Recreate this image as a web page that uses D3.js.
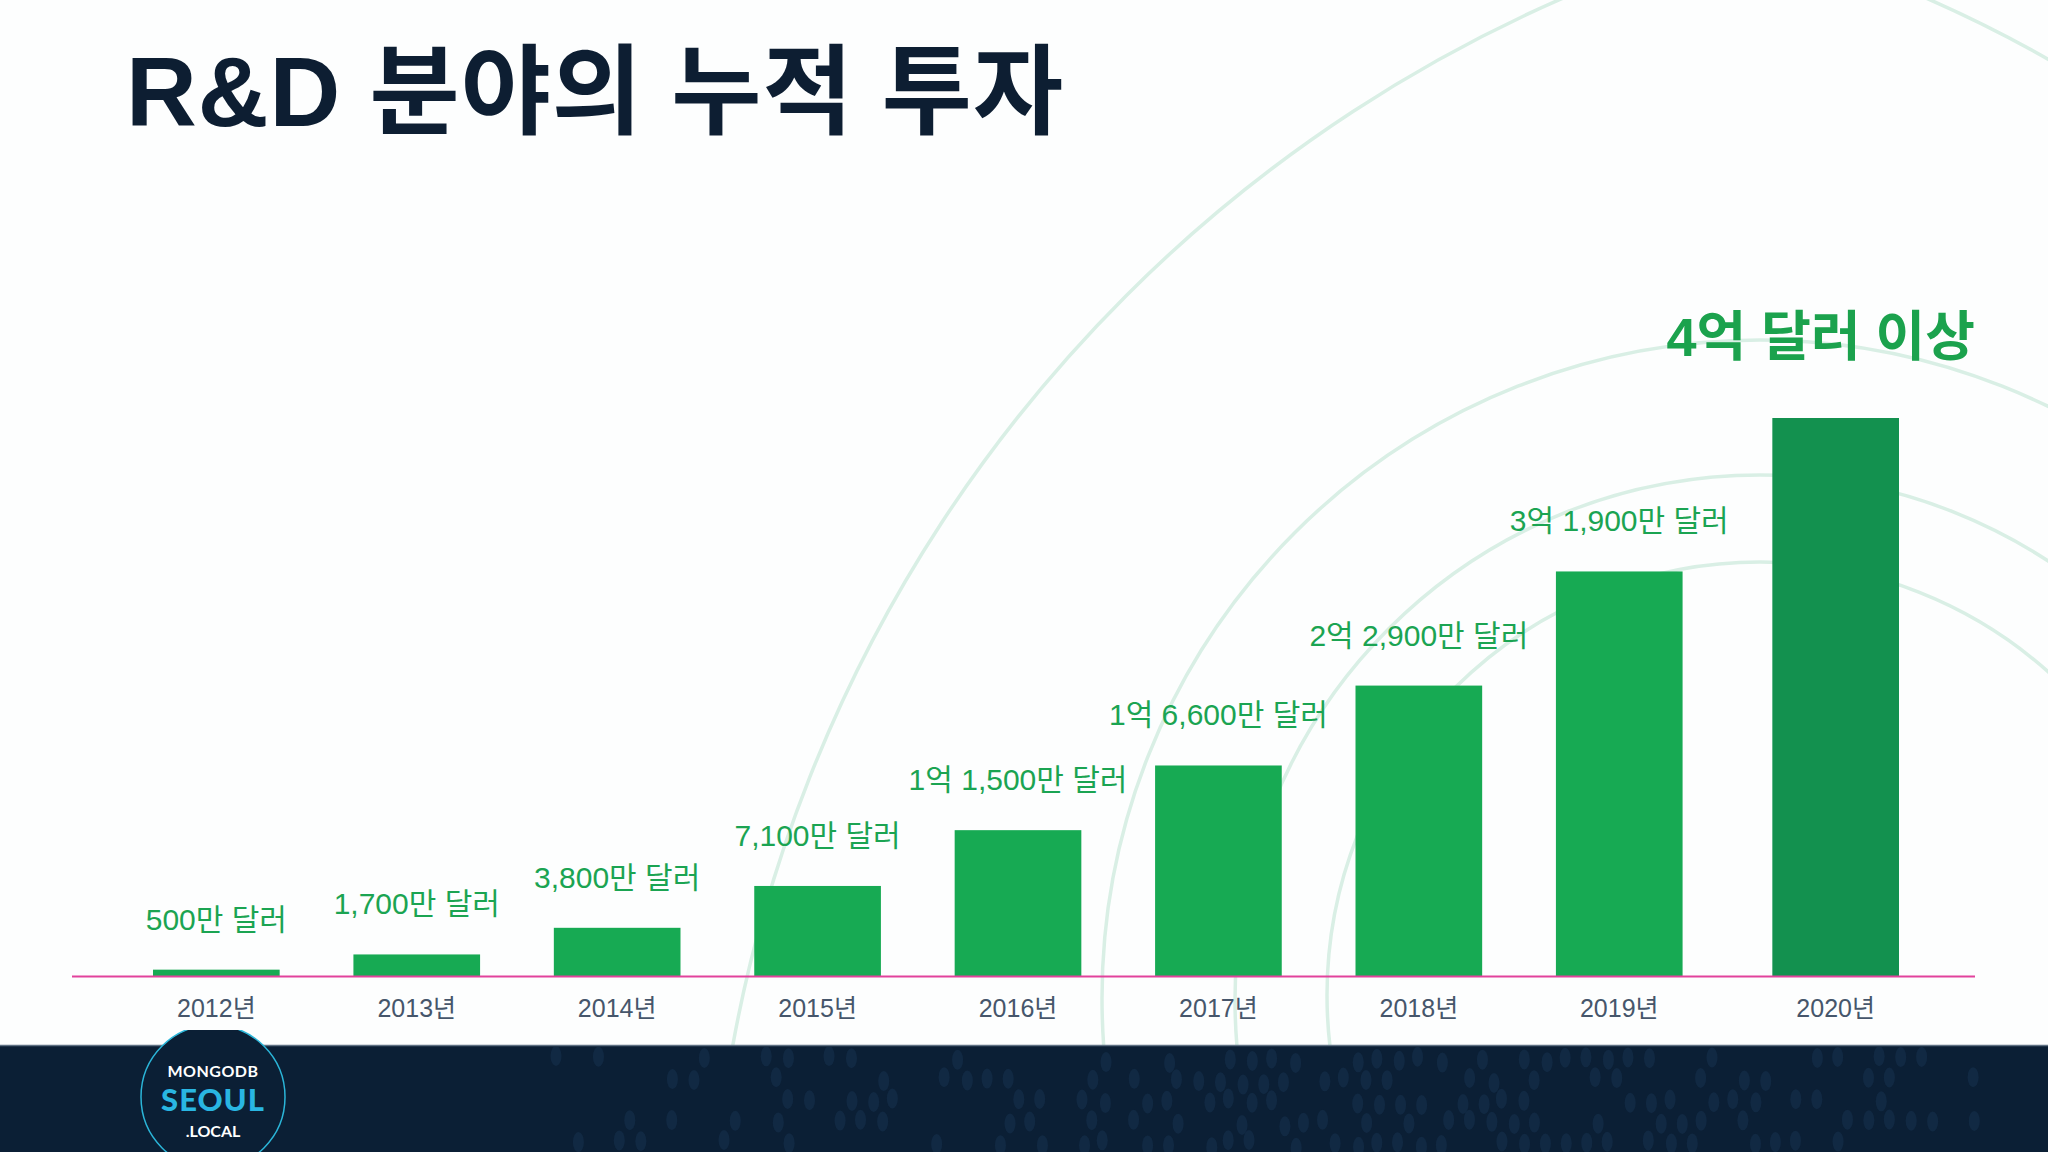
<!DOCTYPE html>
<html>
<head>
<meta charset="utf-8">
<script src="https://cdn.jsdelivr.net/npm/d3@7"></script>
<style>
  html, body { margin: 0; padding: 0; background: #fdfefe; }
  svg { display: block; }
</style>
</head>
<body>
<svg id="chart" width="2048" height="1152"></svg>
<script>
// ---------- data ----------
const titleText = "R&D 분야의 누적 투자";
const years = ["2012년", "2013년", "2014년", "2015년", "2016년", "2017년", "2018년", "2019년", "2020년"];
// cumulative investment, millions of USD
const values = [5, 17, 38, 71, 115, 166, 229, 319, 440];
const valueLabels = ["500만 달러", "1,700만 달러", "3,800만 달러", "7,100만 달러",
  "1억 1,500만 달러", "1억 6,600만 달러", "2억 2,900만 달러", "3억 1,900만 달러", ""];
const highlightYear = "2020년";
const highlightLabel = "4억 달러 이상";

// ---------- layout ----------
const W = 2048, H = 1152;
const footerTop = 1045;
const svg = d3.select("#chart");

const x = d3.scaleBand().domain(years).range([153, 1883]).paddingInner(0.368).paddingOuter(0);
const highlightGap = 16;
const xPos = d => x(d) + (d === highlightYear ? highlightGap : 0);
const y = d3.scaleLinear().domain([0, 440]).range([976, 418]);

// ---------- background ripples ----------
const deco = svg.append("g");
deco.append("clipPath").attr("id", "topClip").append("rect")
  .attr("x", 0).attr("y", 0).attr("width", W).attr("height", footerTop);
const rip = deco.append("g").attr("clip-path", "url(#topClip)")
  .attr("fill", "none").attr("stroke", "#d9efe5").attr("stroke-width", 3.5);
const ripples = [
  { cx: 1760, cy: 995, r: 433 },
  { cx: 1760, cy: 1000, r: 525 },
  { cx: 1760, cy: 998, r: 658 },
  { cx: 2130, cy: 1300, r: 1420 }
];
rip.selectAll("circle").data(ripples).join("circle")
  .attr("cx", d => d.cx).attr("cy", d => d.cy).attr("r", d => d.r);
// small arc at top-right corner
const p = d3.path();
p.arc(1400, 1200, 1312, -Math.PI / 2 + 0.38, -Math.PI / 2 + 0.62);
rip.append("path").attr("d", p.toString());

// ---------- title ----------
svg.append("text")
  .attr("x", 126).attr("y", 126)
  .attr("font-family", "'Liberation Sans', 'Noto Sans CJK KR', sans-serif")
  .attr("font-weight", 700).attr("font-size", 98)
  .attr("letter-spacing", 1)
  .attr("fill", "#0d1e32")
  .text(titleText);

// ---------- bars ----------
const data = years.map((yr, i) => ({ year: yr, value: values[i], label: valueLabels[i] }));

svg.append("g").selectAll("rect").data(data).join("rect")
  .attr("x", d => xPos(d.year))
  .attr("y", d => y(d.value))
  .attr("width", x.bandwidth())
  .attr("height", d => y(0) - y(d.value))
  .attr("fill", d => d.year === highlightYear ? "#13914f" : "#17aa53");

// baseline (axis line)
const lastRight = xPos(highlightYear) + x.bandwidth();
svg.append("line")
  .attr("x1", x.range()[0] - 81).attr("x2", lastRight + 76)
  .attr("y1", y(0) + 0.5).attr("y2", y(0) + 0.5)
  .attr("stroke", "#e2429c").attr("stroke-width", 1.8);

// value labels
svg.append("g").selectAll("text").data(data.filter(d => d.label)).join("text")
  .attr("x", d => xPos(d.year) + x.bandwidth() / 2)
  .attr("y", d => y(d.value) - 40)
  .attr("text-anchor", "middle")
  .attr("font-family", "'Liberation Sans', 'Noto Sans CJK KR', sans-serif")
  .attr("font-size", 30)
  .attr("fill", "#1ba452")
  .text(d => d.label);

// highlight label
svg.append("text")
  .attr("x", lastRight + 76)
  .attr("y", y(values[values.length - 1]) - 62)
  .attr("text-anchor", "end")
  .attr("font-family", "'Liberation Sans', 'Noto Sans CJK KR', sans-serif")
  .attr("font-weight", 700).attr("font-size", 54)
  .attr("fill", "#1ba24d")
  .text(highlightLabel);

// x axis labels
svg.append("g").selectAll("text").data(years).join("text")
  .attr("x", d => xPos(d) + x.bandwidth() / 2)
  .attr("y", 1017)
  .attr("text-anchor", "middle")
  .attr("font-family", "'Liberation Sans', 'Noto Sans CJK KR', sans-serif")
  .attr("font-size", 25)
  .attr("fill", "#46566b")
  .text(d => d);

// ---------- footer ----------
const footer = svg.append("g");
footer.append("clipPath").attr("id", "footClip").append("rect")
  .attr("x", 0).attr("y", footerTop + 2).attr("width", W).attr("height", H - footerTop);
footer.append("rect").attr("x", 0).attr("y", footerTop).attr("width", W).attr("height", H - footerTop)
  .attr("fill", "#0b1f35");
footer.append("line").attr("x1", 0).attr("x2", W).attr("y1", footerTop + 0.5).attr("y2", footerTop + 0.5)
  .attr("stroke", "#5f7183").attr("stroke-width", 1.5);

// decorative halftone dots (deterministic pattern)
const dots = [];
for (let row = 0; row < 5; row++) {
  for (let col = 0; col < 68; col++) {
    const px = 560 + col * 21 + (row % 2) * 10;
    const py = 1062 + row * 21;
    const h = Math.abs(Math.sin(col * 12.9898 + row * 78.233) * 43758.5453) % 1;
    const centerW = 1 - Math.abs((px - 1300) / 700);
    if (h < 0.2 + 0.5 * centerW) dots.push({ px: px + (h - 0.5) * 8, py: py + (h - 0.5) * 12 });
  }
}
footer.append("g").attr("clip-path", "url(#footClip)")
  .selectAll("ellipse").data(dots).join("ellipse")
  .attr("cx", d => d.px).attr("cy", d => d.py).attr("rx", 5.5).attr("ry", 10)
  .attr("fill", "#15304d").attr("opacity", 0.6);

// logo
const logo = footer.append("g");
logo.append("clipPath").attr("id", "logoClip").append("rect")
  .attr("x", 0).attr("y", 1030).attr("width", 500).attr("height", 122);
logo.append("circle").attr("cx", 213).attr("cy", 1097).attr("r", 72)
  .attr("fill", "#0b1f35").attr("stroke", "#2bb5d8").attr("stroke-width", 1.5)
  .attr("clip-path", "url(#logoClip)");
logo.append("text").attr("x", 213).attr("y", 1077).attr("text-anchor", "middle")
  .attr("font-family", "Lato, 'Noto Sans', sans-serif").attr("font-weight", 700)
  .attr("font-size", 16).attr("letter-spacing", 0.5).attr("fill", "#ffffff").text("MONGODB");
logo.append("text").attr("x", 213).attr("y", 1111).attr("text-anchor", "middle")
  .attr("font-family", "Lato, 'Noto Sans', sans-serif").attr("font-weight", 900)
  .attr("font-size", 31).attr("letter-spacing", 1).attr("fill", "#29b6e2").text("SEOUL");
logo.append("text").attr("x", 213).attr("y", 1137).attr("text-anchor", "middle")
  .attr("font-family", "Lato, 'Noto Sans', sans-serif").attr("font-weight", 700)
  .attr("font-size", 16).attr("fill", "#ffffff").text(".LOCAL");
</script>
</body>
</html>
